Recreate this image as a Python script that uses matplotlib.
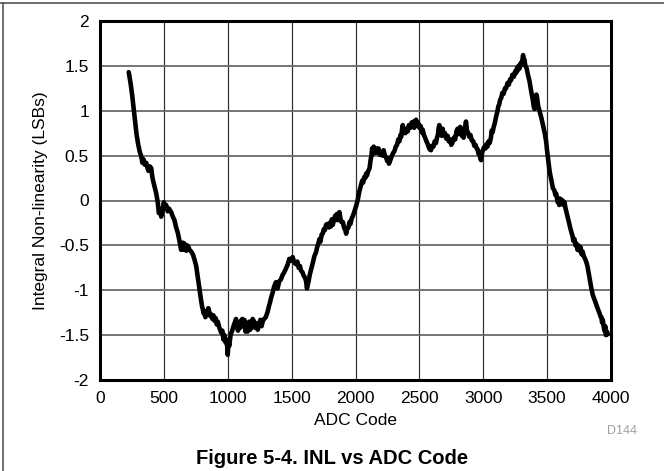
import matplotlib
matplotlib.use("Agg")
import matplotlib.pyplot as plt
from matplotlib.lines import Line2D

# ---- data ----
adc_code = [
    225, 240, 253, 262, 271, 285, 297, 310, 323, 332, 340, 350, 362, 372, 380, 390, 401, 408, 414, 428, 440, 452, 461, 470, 479,
    490, 500, 510, 518, 530, 540, 557, 570, 583, 596, 609, 622, 635, 642, 648, 655, 661, 668, 675, 682, 690, 701, 714, 727, 740, 753, 766, 779,
    790, 799, 806, 812, 818, 825, 832, 840, 848, 857, 865, 872, 880, 888, 896, 905, 914, 922, 935, 948, 958, 966, 974, 982, 990, 995, 1000, 1005,
    1012, 1020, 1026, 1035, 1045, 1055, 1065, 1072, 1080, 1088, 1096, 1104, 1113, 1120, 1130, 1138, 1145, 1156,
    1162, 1168, 1176, 1185, 1195, 1207, 1215, 1225, 1235, 1246, 1255, 1265, 1275, 1285, 1298, 1312, 1322, 1330, 1340, 1351,
    1363, 1377, 1390, 1403, 1416, 1429, 1442, 1455, 1470, 1482, 1495, 1508, 1520, 1534, 1545, 1555, 1565, 1573, 1585, 1595, 1605, 1613, 1620, 1626, 1633, 1640, 1652,
    1665, 1678, 1690, 1700, 1709, 1718, 1725, 1735, 1743, 1752, 1760, 1770, 1783, 1792, 1800, 1808, 1814, 1822, 1830, 1840, 1848, 1855, 1860, 1868, 1874, 1882, 1890, 1901, 1910, 1920, 1927, 1935, 1945, 1953, 1961, 1970, 1980, 1992,
    2005, 2018, 2030, 2045, 2052, 2060, 2068, 2076, 2083, 2090, 2100, 2110, 2118, 2125, 2130, 2136, 2143, 2150, 2156, 2161, 2170, 2180, 2190, 2200, 2210, 2220, 2230, 2240, 2248, 2255, 2262, 2270, 2278, 2285, 2295, 2305, 2315, 2325, 2335, 2344, 2352, 2358,
    2365, 2370, 2378, 2390, 2400, 2409, 2418, 2430, 2440, 2448, 2455, 2460, 2467, 2474, 2482, 2490, 2500, 2510, 2518, 2526,
    2535, 2545, 2555, 2565, 2572, 2580, 2591, 2600, 2610, 2620, 2630, 2638, 2645, 2650, 2656, 2663, 2670, 2676, 2682, 2690,
    2700, 2710, 2721, 2730, 2740, 2750, 2760, 2770, 2780, 2790, 2799, 2807, 2815, 2820, 2826, 2833, 2840, 2846, 2852, 2858,
    2865, 2872, 2880, 2891, 2900, 2910, 2922, 2930, 2940, 2948, 2956, 2963, 2970, 2977, 2983, 2990, 2995, 3002,
    3010, 3018, 3025, 3033, 3042, 3050, 3060, 3066, 3073, 3082, 3090, 3100, 3112, 3118, 3125, 3132, 3140, 3150, 3160, 3170,
    3179, 3190, 3200, 3210, 3218, 3228, 3240, 3250, 3257, 3265, 3270, 3277, 3284, 3292, 3300, 3306, 3312, 3317, 3322, 3330,
    3340, 3350, 3362, 3375, 3388, 3395, 3401, 3410, 3416, 3422, 3430, 3440, 3455, 3466, 3480, 3492, 3500, 3510, 3520, 3531,
    3540, 3545, 3557, 3565, 3570, 3578, 3583, 3590, 3595, 3603, 3609, 3616, 3622, 3630, 3636, 3643, 3650, 3662, 3672, 3680,
    3693, 3700, 3705, 3714, 3722, 3730, 3738, 3745, 3753, 3762, 3770, 3778, 3787, 3800, 3810, 3818, 3830, 3844, 3857, 3870,
    3880, 3890, 3900, 3909, 3917, 3925, 3930, 3936, 3942, 3949, 3955, 3960, 3968, 3975]
inl_lsb = [
    1.43, 1.30, 1.16, 1.05, 0.93, 0.75, 0.64, 0.55, 0.49, 0.42, 0.46, 0.40, 0.42, 0.36, 0.33, 0.38, 0.36, 0.28, 0.23, 0.15, 0.08, -0.02, -0.14, -0.10, -0.18,
    -0.10, -0.02, -0.08, -0.05, -0.12, -0.09, -0.13, -0.18, -0.22, -0.30, -0.36, -0.45, -0.55, -0.50, -0.47, -0.55, -0.48, -0.52, -0.56, -0.50, -0.51, -0.55, -0.57, -0.60, -0.66, -0.73, -0.86, -0.99,
    -1.10, -1.18, -1.22, -1.26, -1.23, -1.30, -1.24, -1.27, -1.20, -1.25, -1.29, -1.27, -1.32, -1.28, -1.34, -1.31, -1.38, -1.35, -1.42, -1.47, -1.45, -1.55, -1.50, -1.58, -1.55, -1.62, -1.72, -1.58,
    -1.62, -1.52, -1.48, -1.45, -1.40, -1.36, -1.32, -1.38, -1.45, -1.38, -1.42, -1.34, -1.32, -1.40, -1.33, -1.46, -1.42, -1.46,
    -1.38, -1.35, -1.44, -1.40, -1.32, -1.35, -1.42, -1.37, -1.44, -1.38, -1.33, -1.40, -1.34, -1.32, -1.30, -1.24, -1.18, -1.14, -1.08, -1.03,
    -0.96, -0.91, -0.98, -0.90, -0.88, -0.83, -0.80, -0.76, -0.71, -0.65, -0.67, -0.63, -0.69, -0.71, -0.68, -0.75, -0.73, -0.78, -0.80, -0.84, -0.86, -0.90, -0.98, -0.94, -0.90, -0.84, -0.77,
    -0.70, -0.62, -0.58, -0.52, -0.48, -0.43, -0.46, -0.38, -0.37, -0.32, -0.33, -0.27, -0.26, -0.30, -0.25, -0.29, -0.21, -0.27, -0.23, -0.17, -0.20, -0.15, -0.22, -0.17, -0.13, -0.20, -0.24, -0.24, -0.30, -0.33, -0.37, -0.31, -0.30, -0.24, -0.26, -0.20, -0.17, -0.12,
    -0.06, 0.01, 0.10, 0.18, 0.22, 0.20, 0.26, 0.25, 0.30, 0.28, 0.33, 0.36, 0.45, 0.50, 0.58, 0.52, 0.60, 0.57, 0.53, 0.58, 0.54, 0.58, 0.51, 0.54, 0.50, 0.56, 0.50, 0.48, 0.44, 0.47, 0.41, 0.44, 0.47, 0.50, 0.53, 0.55, 0.60, 0.62, 0.68, 0.66, 0.73, 0.71,
    0.80, 0.84, 0.77, 0.75, 0.80, 0.77, 0.84, 0.81, 0.87, 0.84, 0.88, 0.81, 0.86, 0.90, 0.84, 0.87, 0.81, 0.83, 0.76, 0.79,
    0.73, 0.70, 0.66, 0.63, 0.60, 0.57, 0.56, 0.61, 0.60, 0.66, 0.64, 0.70, 0.73, 0.80, 0.84, 0.77, 0.78, 0.72, 0.80, 0.74,
    0.75, 0.69, 0.72, 0.66, 0.68, 0.62, 0.65, 0.70, 0.68, 0.77, 0.80, 0.74, 0.76, 0.82, 0.80, 0.72, 0.74, 0.70, 0.76, 0.82,
    0.88, 0.78, 0.76, 0.71, 0.73, 0.67, 0.66, 0.61, 0.62, 0.58, 0.57, 0.52, 0.54, 0.47, 0.45, 0.53, 0.55, 0.58,
    0.60, 0.58, 0.63, 0.60, 0.66, 0.64, 0.70, 0.78, 0.76, 0.82, 0.86, 0.93, 1.00, 1.05, 1.07, 1.12, 1.14, 1.20, 1.19, 1.25,
    1.25, 1.31, 1.29, 1.35, 1.34, 1.40, 1.38, 1.44, 1.42, 1.48, 1.45, 1.50, 1.47, 1.53, 1.51, 1.56, 1.62, 1.55, 1.57, 1.50,
    1.47, 1.40, 1.33, 1.22, 1.12, 1.05, 1.02, 1.06, 1.18, 1.14, 1.05, 1.00, 0.92, 0.85, 0.76, 0.66, 0.55, 0.43, 0.32, 0.24,
    0.18, 0.14, 0.11, 0.06, 0.08, 0.02, -0.02, 0.02, -0.05, 0.02, 0.01, -0.04, 0.00, -0.05, -0.02, -0.08, -0.12, -0.19, -0.25, -0.30,
    -0.37, -0.40, -0.45, -0.43, -0.50, -0.48, -0.55, -0.50, -0.56, -0.52, -0.60, -0.57, -0.62, -0.66, -0.70, -0.75, -0.85, -0.96, -1.05, -1.10,
    -1.14, -1.18, -1.22, -1.25, -1.29, -1.30, -1.36, -1.33, -1.40, -1.45, -1.40, -1.50, -1.46, -1.49]
x_ticks = [0, 500, 1000, 1500, 2000, 2500, 3000, 3500, 4000]
y_ticks = [-2, -1.5, -1, -0.5, 0, 0.5, 1, 1.5, 2]
y_tick_labels = ["-2", "-1.5", "-1", "-0.5", "0", "0.5", "1", "1.5", "2"]

plt.rcParams['font.family'] = ["Liberation Sans", "DejaVu Sans"]

fig = plt.figure(figsize=(6.64, 4.71), dpi=100)
ax = fig.add_axes([100/664, 1 - 380/471, 511/664, 359/471])

for xv in x_ticks[1:-1]:
    ax.axvline(xv, color="#333333", lw=0.9, zorder=1)
for yv in y_ticks[1:-1]:
    ax.axhline(yv, color="#6a6a6a", lw=1.3, zorder=1)

ax.plot(adc_code, inl_lsb, color="black", lw=3.3, solid_joinstyle="round",
        solid_capstyle="round", zorder=3)

ax.set_xlim(0, 4000)
ax.set_ylim(-2, 2)
ax.set_xticks(x_ticks)
ax.set_yticks(y_ticks)
ax.set_yticklabels(y_tick_labels)
ax.tick_params(length=0, pad=8, labelsize=12.5)
for s in ax.spines.values():
    s.set_linewidth(2.2)
    s.set_color("black")

ax.set_xlabel("ADC Code", fontsize=12.5, labelpad=5)
ax.set_ylabel("Integral Non-linearity (LSBs)", fontsize=12.5, labelpad=8)

fig.text(622/664, 1 - 431/471, "D144", fontsize=9, color="#a0a0a0", ha="center", va="center")
fig.text(332/664, 1 - 458/471, "Figure 5-4. INL vs ADC Code", fontsize=14.5, fontweight="bold",
         ha="center", va="center")

fig.add_artist(Line2D([0, 1], [1 - 2.5/471, 1 - 2.5/471], color="#555555", lw=1.2))
fig.add_artist(Line2D([2.5/664, 2.5/664], [0, 1 - 2.5/471], color="#555555", lw=1.2))

fig.savefig("out.png", dpi=100)
